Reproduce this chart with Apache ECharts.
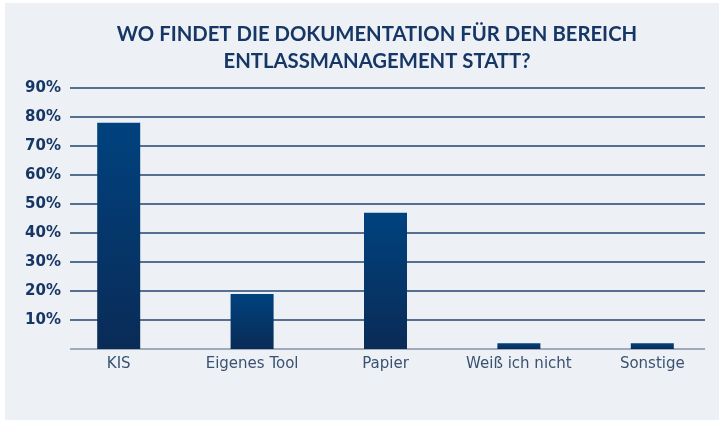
<!DOCTYPE html>
<html>
<head>
<meta charset="utf-8">
<script src="https://cdn.jsdelivr.net/npm/echarts@6/dist/echarts.min.js"></script>
<style>
  html, body { margin: 0; padding: 0; background: #ffffff; }
  #chart { position: absolute; left: 5px; top: 3px; width: 714px; height: 417px; background: #edf0f4; }
</style>
</head>
<body>
<div id="chart"></div>
<script>
// chart data
const categories = ['KIS', 'Eigenes Tool', 'Papier', 'Weiß ich nicht', 'Sonstige'];
const shares = [78, 19, 47, 2, 2];
const yTicks = [0, 10, 20, 30, 40, 50, 60, 70, 80, 90];

const titleText = 'WO FINDET DIE DOKUMENTATION FÜR DEN BEREICH\nENTLASSMANAGEMENT STATT?';

const chart = echarts.init(document.getElementById('chart'));

// first split line (0%) is the lighter baseline
const lineColors = yTicks.map((t, i) => i === 0 ? '#8595ab' : '#234670');

const option = {
  animation: false,
  title: {
    text: titleText,
    left: 367,
    textAlign: 'center',
    top: 13,
    textStyle: {
      fontFamily: 'Lato',
      fontWeight: 'bold',
      fontSize: 20.3,
      lineHeight: 27,
      color: '#163766'
    }
  },
  grid: [
    // grid for the horizontal lines and y labels
    { left: 65, right: 14, top: 85, bottom: 71 },
    // grid for the bars (wider category spread)
    { left: 47, width: 672, top: 85, bottom: 71 }
  ],
  xAxis: [
    { type: 'value', gridIndex: 0, show: false },
    {
      type: 'category',
      gridIndex: 1,
      data: categories,
      axisLine: { show: false },
      axisTick: { show: false },
      axisLabel: {
        interval: 0,
        margin: 8,
        fontFamily: 'DejaVu Sans',
        fontSize: 15,
        color: '#3a5272'
      }
    }
  ],
  yAxis: [
    {
      type: 'value',
      gridIndex: 0,
      min: 0,
      max: 90,
      interval: 10,
      axisLine: { show: false },
      axisTick: { show: false },
      axisLabel: {
        showMinLabel: false,
        margin: 9,
        formatter: '{value}%',
        fontFamily: 'DejaVu Sans',
        fontWeight: 'bold',
        fontSize: 15,
        color: '#163766'
      },
      splitLine: { lineStyle: { color: lineColors, width: 1.5 } }
    },
    {
      type: 'value',
      gridIndex: 1,
      min: 0,
      max: 90,
      interval: 10,
      show: false,
      splitLine: { show: false }
    }
  ],
  series: [
    {
      type: 'bar',
      xAxisIndex: 1,
      yAxisIndex: 1,
      data: shares,
      barWidth: 43,
      itemStyle: {
        color: new echarts.graphic.LinearGradient(0, 0, 0, 1, [
          { offset: 0, color: '#00427f' },
          { offset: 1, color: '#0a2b56' }
        ])
      }
    }
  ]
};

chart.setOption(option);
</script>
</body>
</html>
